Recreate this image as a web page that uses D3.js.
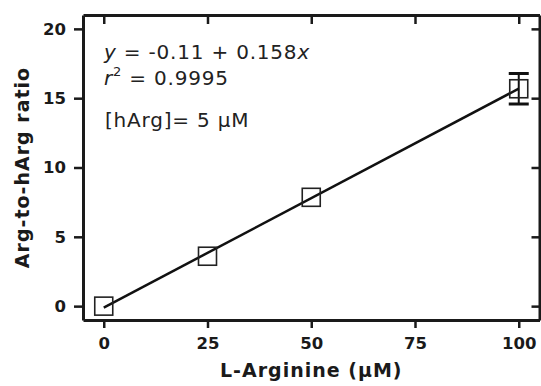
<!DOCTYPE html>
<html>
<head>
<meta charset="utf-8">
<script src="https://cdn.jsdelivr.net/npm/d3@7"></script>
<style>
  body { margin: 0; background: #fff; }
  svg { display: block; font-family: "DejaVu Sans", Verdana, sans-serif; }
</style>
</head>
<body>
<div id="chart"></div>
<script>
const arginine = [0, 25, 50, 100];
const ratio = [0, 3.6, 7.85, 15.68];
const ratioErr = [0, 0, 0, 1.1];
const xTicks = [0, 25, 50, 75, 100];
const yTicks = [0, 5, 10, 15, 20];
const intercept = -0.11;
const slope = 0.158;

const width = 541, height = 386;
const margin = {top: 15, right: 1.5, bottom: 66, left: 83};

const svg = d3.select("#chart").append("svg")
    .attr("width", width)
    .attr("height", height);

const xScale = d3.scaleLinear().domain([-5, 105]).range([margin.left, width - margin.right]);
const yScale = d3.scaleLinear().domain([-1, 21]).range([height - margin.bottom, margin.top]);

const styleLabels = g => g.selectAll("text")
    .attr("font-size", 16.5).attr("font-weight", "bold")
    .attr("font-family", "DejaVu Sans").attr("fill", "#1a1a1a");

// outer axes
const xAxis = d3.axisBottom(xScale).tickValues(xTicks).tickSize(8).tickPadding(9).tickSizeOuter(0);
const yAxis = d3.axisLeft(yScale).tickValues(yTicks).tickSize(9).tickPadding(8).tickSizeOuter(0);

svg.append("g")
    .attr("transform", "translate(0," + yScale(-1) + ")")
    .call(xAxis)
    .call(styleLabels);

svg.append("g")
    .attr("transform", "translate(" + xScale(-5) + ",0)")
    .call(yAxis)
    .call(styleLabels);

// mirrored inner ticks on top and right
svg.append("g")
    .attr("transform", "translate(0," + yScale(21) + ")")
    .call(d3.axisBottom(xScale).tickValues(xTicks).tickSize(9).tickFormat("").tickSizeOuter(0));

svg.append("g")
    .attr("transform", "translate(" + xScale(105) + ",0)")
    .call(d3.axisLeft(yScale).tickValues(yTicks).tickSize(8).tickFormat("").tickSizeOuter(0));

svg.selectAll(".domain").attr("stroke", "#1a1a1a").attr("stroke-width", 3);
svg.selectAll(".tick line").attr("stroke", "#1a1a1a").attr("stroke-width", 2.5);

// regression line
svg.append("line")
    .attr("x1", xScale(0)).attr("y1", yScale(intercept))
    .attr("x2", xScale(100)).attr("y2", yScale(intercept + slope * 100))
    .attr("stroke", "#111").attr("stroke-width", 2.5);

// error bars
const data = arginine.map((x, i) => ({x: x, y: ratio[i], e: ratioErr[i]}));
const errs = svg.append("g").selectAll("g").data(data.filter(d => d.e > 0)).join("g");
errs.append("line")
    .attr("x1", d => xScale(d.x)).attr("x2", d => xScale(d.x))
    .attr("y1", d => yScale(d.y - d.e)).attr("y2", d => yScale(d.y + d.e))
    .attr("stroke", "#111").attr("stroke-width", 2);
[-1, 1].forEach(s => {
  errs.append("line")
      .attr("x1", d => xScale(d.x) - 10).attr("x2", d => xScale(d.x) + 10)
      .attr("y1", d => yScale(d.y + s * d.e)).attr("y2", d => yScale(d.y + s * d.e))
      .attr("stroke", "#111").attr("stroke-width", 3);
});

// square markers
svg.append("g").selectAll("rect").data(data).join("rect")
    .attr("x", d => xScale(d.x) - 9)
    .attr("y", d => yScale(d.y) - 9)
    .attr("width", 18).attr("height", 18)
    .attr("fill", "none")
    .attr("stroke", "#222").attr("stroke-width", 1.6);

// axis titles
svg.append("text")
    .attr("x", (xScale(-5) + xScale(105)) / 2).attr("y", 377)
    .attr("text-anchor", "middle")
    .attr("font-size", 19).attr("font-weight", "bold").attr("letter-spacing", 1)
    .attr("fill", "#1a1a1a")
    .text("L-Arginine (µM)");

svg.append("text")
    .attr("transform", "translate(29," + (yScale(-1) + yScale(21)) / 2 + ") rotate(-90)")
    .attr("text-anchor", "middle")
    .attr("font-size", 19).attr("font-weight", "bold").attr("letter-spacing", 1)
    .attr("fill", "#1a1a1a")
    .text("Arg-to-hArg ratio");

// annotations
const ann = svg.append("g").attr("font-size", 20).attr("letter-spacing", 0.8).attr("fill", "#222");
const t1 = ann.append("text").attr("x", 104).attr("y", 59);
t1.append("tspan").attr("font-style", "italic").text("y");
t1.append("tspan").text(" = -0.11 + 0.158");
t1.append("tspan").attr("font-style", "italic").text("x");

const t2 = ann.append("text").attr("x", 104).attr("y", 85);
t2.append("tspan").attr("font-style", "italic").text("r");
t2.append("tspan").attr("font-size", 13).attr("dy", -9).text("2");
t2.append("tspan").attr("dy", 9).text(" = 0.9995");

ann.append("text").attr("x", 105).attr("y", 127).text("[hArg]= 5 µM");
</script>
</body>
</html>
